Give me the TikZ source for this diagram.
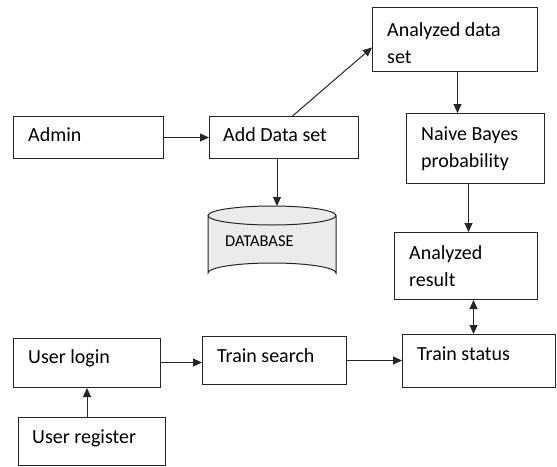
\documentclass[tikz,border=0pt]{standalone}
\usepackage{fontspec}
\setmainfont{Carlito}
\usetikzlibrary{arrows.meta}
\begin{document}
\begin{tikzpicture}[x=1pt,y=-1pt,
  box/.style={draw=black!85,line width=1pt,inner sep=0pt,anchor=north west},
  lbl/.style={anchor=base west,inner sep=0pt,font=\fontsize{20}{27}\selectfont,align=left},
  arr/.style={draw=black!85,line width=1pt,-{Triangle[length=9pt,width=8pt]}},
  darr/.style={draw=black!85,line width=1pt,{Triangle[length=9pt,width=8pt]}-{Triangle[length=9pt,width=8pt]}}]
\useasboundingbox (0,0) rectangle (557,466);

% boxes
\node[box,minimum width=150,minimum height=42] (admin) at (13,116) {};
\node[box,minimum width=149,minimum height=42] (add) at (209,116) {};
\node[box,minimum width=165,minimum height=64] (ads) at (372,7) {};
\node[box,minimum width=138,minimum height=70] (nb) at (406,113) {};
\node[box,minimum width=143,minimum height=67] (ar) at (394,232) {};
\node[box,minimum width=153,minimum height=53] (tst) at (402,334) {};
\node[box,minimum width=144,minimum height=48] (tsr) at (202,336) {};
\node[box,minimum width=147,minimum height=49] (ul) at (13,338) {};
\node[box,minimum width=147,minimum height=48] (ur) at (18,417) {};

% database cylinder
\fill[black!8] (208,215.5) arc[start angle=180,end angle=360,x radius=64,y radius=9.5]
  -- (336,273) arc[start angle=0,end angle=-180,x radius=64,y radius=10] -- cycle;
\fill[black!8] (272,215.5) ellipse[x radius=64,y radius=9.5];
\draw[black!85,line width=1pt] (272,215.5) ellipse[x radius=64,y radius=9.5];
\draw[black!85,line width=1pt] (208,215.5) -- (208,273)
  arc[start angle=180,end angle=360,x radius=64,y radius=10] -- (336,215.5);
\node[inner sep=0pt,minimum width=128,minimum height=77,anchor=north] (db) at (272,206) {};

% labels (multi-line labels are placed by their last baseline)
\node[lbl] (admint) at (28,141) {Admin};
\node[lbl] (addt) at (223,141) {Add Data set};
\node[lbl] (adst) at (387,63) {Analyzed data\\set};
\node[lbl] (nbt) at (421,167) {Naive Bayes\\probability};
\node[lbl] (art) at (409,286) {Analyzed\\result};
\node[lbl] (tstt) at (417,360) {Train status};
\node[lbl] (tsrt) at (217,362) {Train search};
\node[lbl] (ult) at (28,363) {User login};
\node[lbl] (urt) at (32,443) {User register};
\node[anchor=base west,inner sep=0pt,font=\fontsize{16.5}{20}\selectfont] (dbt) at (225,246) {DATABASE};

% connectors
\draw[arr] (admin.east) -- (add.west);
\draw[arr] ([xshift=-7pt]add.south) -- ([xshift=-7pt]add.south |- db.north);
\draw[arr] ([xshift=8.5pt]add.north) -- ([yshift=-8pt]ads.west);
\draw[arr] ([xshift=2.5pt]ads.south) -- ([xshift=2.5pt]ads.south |- nb.north);
\draw[arr] ([xshift=-7pt]nb.south) -- ([xshift=-7pt]nb.south |- ar.north);
\draw[darr] ([xshift=7.5pt]ar.south) -- ([xshift=7.5pt]ar.south |- tst.north);
\draw[arr] ([yshift=0.5pt]ul.east) -- ([yshift=0.5pt]ul.east -| tsr.west);
\draw[arr] (tsr.east) -- (tsr.east -| tst.west);
\draw[arr] (ur.north -| ul.south) -- (ul.south);
\end{tikzpicture}
\end{document}
